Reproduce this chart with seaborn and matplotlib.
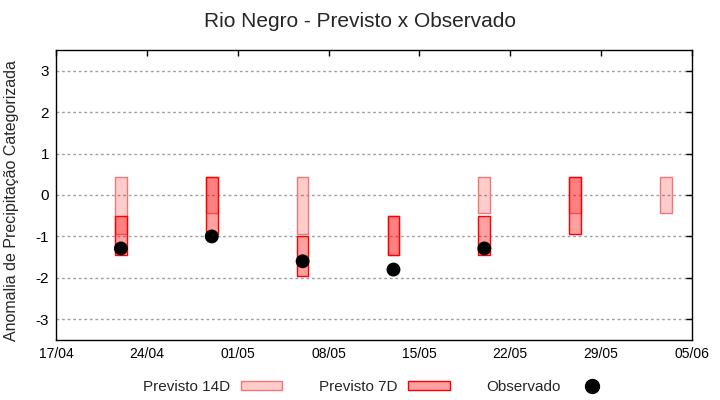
import pandas as pd
import matplotlib
matplotlib.use("Agg")
import matplotlib.pyplot as plt
import matplotlib.dates as mdates
from matplotlib.patches import Patch
from matplotlib.lines import Line2D
import seaborn as sns

# Forecast boxes (anomaly ranges) and observed values
dates_14d = ['2023-04-22', '2023-04-29', '2023-05-06', '2023-05-13', '2023-05-20', '2023-05-27', '2023-06-03']
low_14d = [-0.95, -0.43, -0.95, -1.44, -0.43, -0.43, -0.43]
high_14d = [0.43, 0.43, 0.43, -0.51, 0.43, 0.43, 0.43]

dates_7d = ['2023-04-22', '2023-04-29', '2023-05-06', '2023-05-13', '2023-05-20', '2023-05-27']
low_7d = [-1.44, -0.95, -1.95, -1.44, -1.44, -0.95]
high_7d = [-0.51, 0.43, -1.0, -0.51, -0.51, 0.43]

dates_obs = ['2023-04-22', '2023-04-29', '2023-05-06', '2023-05-13', '2023-05-20']
obs = [-1.29, -1.0, -1.6, -1.8, -1.29]

tick_dates = pd.date_range('2023-04-17', '2023-06-05', freq='7D')
y_ticks = [-3, -2, -1, 0, 1, 2, 3]

sns.set_style("white")
plt.rcParams['font.family'] = ['Liberation Sans', 'DejaVu Sans']

c14_face = (1, 0, 0, 0.2)
c14_edge = '#F07878'
c7_face = (1, 0, 0, 0.37)
c7_edge = '#FF0000'


def to_num(dates):
    return mdates.date2num(pd.to_datetime(dates))


fig, ax = plt.subplots(figsize=(7.2, 4), dpi=100)
fig.subplots_adjust(left=56 / 720, right=692 / 720, top=1 - 50 / 400, bottom=1 - 340 / 400)

x14 = to_num(dates_14d)
x7 = to_num(dates_7d)
h14 = [h - l for l, h in zip(low_14d, high_14d)]
h7 = [h - l for l, h in zip(low_7d, high_7d)]

ax.bar(x14, h14, bottom=low_14d, width=0.9, facecolor=c14_face, edgecolor=c14_edge, linewidth=1.0, zorder=2)
ax.bar(x7, h7, bottom=low_7d, width=0.9, facecolor=c7_face, edgecolor=c7_edge, linewidth=1.0, zorder=3)

obs_df = pd.DataFrame({'x': to_num(dates_obs), 'y': obs})
sns.scatterplot(data=obs_df, x='x', y='y', color='black', s=100, edgecolor='none', ax=ax, zorder=4)

ax.set_xlim(to_num(['2023-04-17'])[0], to_num(['2023-06-05'])[0])
ax.set_ylim(-3.5, 3.5)
ax.set_xticks(mdates.date2num(tick_dates))
ax.set_xticklabels(tick_dates.strftime('%d/%m'), fontsize=10)
ax.set_yticks(y_ticks)
ax.set_yticklabels([str(v) for v in y_ticks], fontsize=11)
ax.tick_params(direction='in', length=4, width=1, top=True, right=True, pad=5, colors='black')

ax.yaxis.grid(True, color='#a0a0a0', linestyle=(0, (2, 2)), linewidth=1)
ax.xaxis.grid(False)
ax.set_axisbelow(True)
for sp in ax.spines.values():
    sp.set_color('black')
    sp.set_linewidth(1)

ax.set_xlabel('')
ax.set_ylabel('Anomalia de Precipitação Categorizada', fontsize=11.5, labelpad=4)
ax.yaxis.set_label_coords(-0.058, 0.48)
fig.suptitle('Rio Negro - Previsto x Observado', fontsize=15, y=0.97)

handles = [
    Patch(facecolor=c14_face, edgecolor=c14_edge, linewidth=1.0),
    Patch(facecolor=c7_face, edgecolor=c7_edge, linewidth=1.0),
    Line2D([], [], marker='o', linestyle='none', color='black', markersize=10),
]
labels = ['Previsto 14D', 'Previsto 7D', 'Observado']
fig.legend(handles, labels, loc='center', bbox_to_anchor=(0.525, 13 / 400), ncol=3, frameon=False,
           fontsize=11, markerfirst=False, handlelength=2.7, handleheight=0.5,
           handletextpad=0.7, columnspacing=2.4)

plt.savefig('out.png', dpi=100)
plt.close()
